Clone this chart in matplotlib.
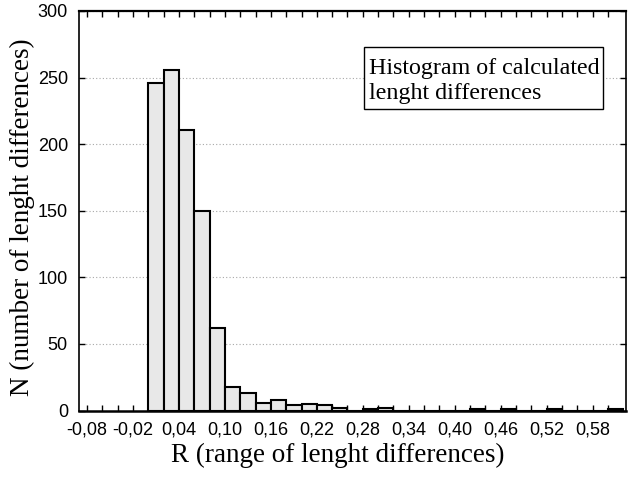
import matplotlib
matplotlib.use("Agg")
import matplotlib.pyplot as plt
from matplotlib.patches import Rectangle

# ---- data ----
bin_starts = [0.00, 0.02, 0.04, 0.06, 0.08, 0.10, 0.12, 0.14, 0.16, 0.18,
              0.20, 0.22, 0.24, 0.26, 0.28, 0.30, 0.32, 0.34, 0.36, 0.38,
              0.40, 0.42, 0.44, 0.46, 0.48, 0.50, 0.52, 0.54, 0.56, 0.58, 0.60]
counts = [246, 256, 211, 150, 62, 18, 13, 6, 8, 4,
          5, 4, 2, 0, 1, 2, 0, 0, 0, 0,
          0, 1, 0, 1, 0, 0, 1, 0, 0, 0, 1]
bin_width = 0.02
xtick_major = [-0.08, -0.02, 0.04, 0.10, 0.16, 0.22, 0.28, 0.34, 0.40, 0.46, 0.52, 0.58]
xtick_labels = ["-0,08", "-0,02", "0,04", "0,10", "0,16", "0,22", "0,28",
                "0,34", "0,40", "0,46", "0,52", "0,58"]
xtick_minor = [-0.08, -0.06, -0.04, -0.02, 0.00, 0.02, 0.04, 0.06, 0.08, 0.10,
               0.12, 0.14, 0.16, 0.18, 0.20, 0.22, 0.24, 0.26, 0.28, 0.30,
               0.32, 0.34, 0.36, 0.38, 0.40, 0.42, 0.44, 0.46, 0.48, 0.50,
               0.52, 0.54, 0.56, 0.58, 0.60]
ytick_vals = [0, 50, 100, 150, 200, 250, 300]
xlabel = "R (range of lenght differences)"
ylabel = "N (number of lenght differences)"
note_lines = ["Histogram of calculated", "lenght differences"]

W, H = 629, 484
fig = plt.figure(figsize=(W / 100, H / 100), dpi=100)
ax_l, ax_r, ax_t, ax_b = 79, 625.5, 11, 410.5
ax = fig.add_axes([ax_l / W, (H - ax_b) / H, (ax_r - ax_l) / W, (ax_b - ax_t) / H])

ax.bar(bin_starts, counts, width=bin_width, align="edge",
       facecolor="#e8e8e8", edgecolor="black", linewidth=1.5, zorder=3)

ax.set_xlim(-0.0905, 0.623)
ax.set_ylim(0, 300)

ax.set_xticks(xtick_major)
ax.set_xticklabels(xtick_labels, family="Liberation Sans", fontsize=13)
ax.set_xticks(xtick_minor, minor=True)
ax.set_yticks(ytick_vals)
ax.set_yticklabels([str(v) for v in ytick_vals], family="Liberation Sans", fontsize=13)

ax.tick_params(axis="both", which="both", direction="in", top=True, right=True,
               width=1.0, colors="black")
ax.tick_params(axis="x", which="both", length=4, pad=8)
ax.tick_params(axis="y", which="major", length=4, pad=8)

for s in ax.spines.values():
    s.set_linewidth(1.2)
ax.spines["bottom"].set_linewidth(1.8)
ax.spines["top"].set_linewidth(1.6)

ax.yaxis.grid(True, linestyle=(0, (1, 2)), color="#a8a8a8", linewidth=0.8, zorder=0)
ax.set_axisbelow(True)

ax.set_xlabel(xlabel, family="Liberation Serif", fontsize=19.5, labelpad=3)
ax.set_ylabel(ylabel, family="Liberation Serif", fontsize=19.5, labelpad=2)
ax.xaxis.label.set_x(0.474)
ax.yaxis.label.set_y(0.484)

def fx(px):
    return (px - ax_l) / (ax_r - ax_l)

def fy(py):
    return (ax_b - py) / (ax_b - ax_t)

box = Rectangle((fx(363.5), fy(108.5)), fx(603) - fx(363.5), fy(47.5) - fy(108.5),
                transform=ax.transAxes, facecolor="white", edgecolor="black",
                linewidth=1.0, zorder=5)
ax.add_patch(box)
ax.text(fx(369), fy(74), note_lines[0], transform=ax.transAxes, ha="left",
        va="baseline", family="Liberation Serif", fontsize=17.3, zorder=6)
ax.text(fx(369), fy(99), note_lines[1], transform=ax.transAxes, ha="left",
        va="baseline", family="Liberation Serif", fontsize=17.3, zorder=6)

fig.savefig("out.png", dpi=100)
